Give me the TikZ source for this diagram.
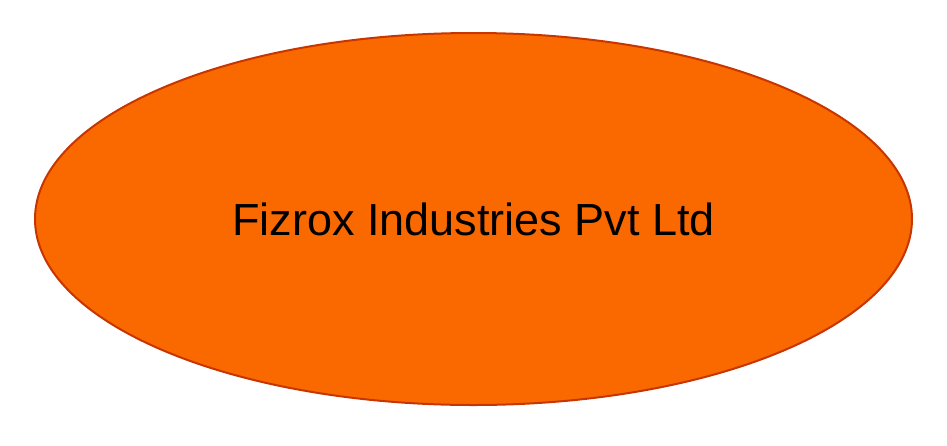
\documentclass[tikz,border=0pt]{standalone}
\usepackage{fontspec}
\setmainfont{Liberation Sans}
\usetikzlibrary{shapes.geometric}

\definecolor{orangefill}{HTML}{FA6800}
\definecolor{orangeline}{HTML}{C73500}

\tikzset{
	company/.style={ellipse, draw=orangeline, fill=orangefill, line width=2pt,
		inner sep=0pt, minimum width=877pt, minimum height=372pt,
		font=\fontsize{45}{54}\selectfont}
}

\begin{document}
\begin{tikzpicture}[x=1pt, y=1pt]
		\useasboundingbox (0,0) rectangle (947,-445);

		\node[company] (fizrox) at (473.5,-219) {Fizrox Industries Pvt Ltd};
	\end{tikzpicture}
\end{document}
